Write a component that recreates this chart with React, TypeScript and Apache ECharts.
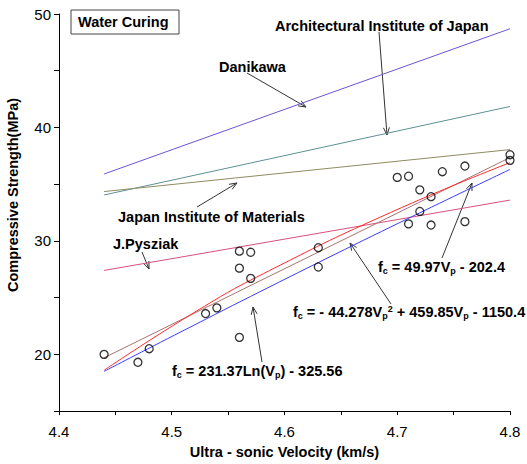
import React, { useEffect, useRef } from 'react';
import * as echarts from 'echarts';

// Measured data (Ultra-sonic velocity km/s vs compressive strength MPa)
const velocity = [4.44, 4.47, 4.48, 4.53, 4.54, 4.56, 4.56, 4.57, 4.56, 4.57, 4.63, 4.63, 4.70, 4.71, 4.72, 4.73, 4.72, 4.71, 4.73, 4.74, 4.76, 4.76, 4.80, 4.80];
const strength = [20.0, 19.3, 20.5, 23.6, 24.1, 21.5, 29.1, 29.0, 27.6, 26.7, 29.4, 27.7, 35.6, 35.7, 34.5, 33.9, 32.6, 31.5, 31.4, 36.1, 36.6, 31.7, 37.6, 37.1];

// Reference relations (end points)
const relX = [4.44, 4.8];
const danikawa = [35.9, 48.7];
const aij = [34.05, 41.85];
const jim = [34.35, 38.05];
const pysziak = [27.4, 33.6];
const linearFit = [19.7, 37.35];

// Quadratic fit (red)
const quadX = [4.44, 4.525, 4.587, 4.694, 4.8];
const quadY = [18.6, 24.0, 27.4, 32.5, 36.9];

// Logarithmic fit (blue)
const logX = [4.44, 4.62, 4.8];
const logY = [18.5, 27.6, 36.3];

const xTicks = [4.4, 4.5, 4.6, 4.7, 4.8];
const yTicks = [20, 30, 40, 50];

const FONT = "'Liberation Sans', Arial, Helvetica, sans-serif";

function pairs(xs: number[], ys: number[]) {
  return xs.map((x, i) => [x, ys[i]]);
}

function arrow(x1: number, y1: number, x2: number, y2: number) {
  const a = Math.atan2(y2 - y1, x2 - x1);
  const L = 8;
  const s = 0.38;
  const head = [
    [x2 - L * Math.cos(a - s), y2 - L * Math.sin(a - s)],
    [x2, y2],
    [x2 - L * Math.cos(a + s), y2 - L * Math.sin(a + s)],
  ];
  const st = { stroke: '#333', lineWidth: 1, fill: null };
  return [
    { type: 'line', shape: { x1, y1, x2, y2 }, style: st, silent: true },
    { type: 'polyline', shape: { points: head }, style: st, silent: true },
  ];
}

const richStyles = {
  n: { fontSize: 14.5, fontWeight: 'bold', fontFamily: FONT, lineHeight: 16, verticalAlign: 'top', color: '#000' },
  s: { fontSize: 9, fontWeight: 'bold', fontFamily: FONT, lineHeight: 10, verticalAlign: 'top', padding: [7, 0, 0, 0], color: '#000' },
  u: { fontSize: 9, fontWeight: 'bold', fontFamily: FONT, lineHeight: 10, verticalAlign: 'top', padding: [0, 0, 0, 0], color: '#000' },
};

function label(text: string, x: number, yc: number) {
  return {
    type: 'text',
    x,
    y: yc,
    silent: true,
    style: { text, fill: '#000', font: `bold 14.5px ${FONT}`, align: 'left', verticalAlign: 'middle' },
  };
}

function richLabel(text: string, x: number, yc: number) {
  return {
    type: 'text',
    x,
    y: yc - 8,
    silent: true,
    style: { text, rich: richStyles, fill: '#000', font: `bold 14.5px ${FONT}`, align: 'left', verticalAlign: 'top' },
  };
}

export default function App() {
  const ref = useRef<HTMLDivElement>(null);
  useEffect(() => {
    if (!ref.current) return;
    const chart = echarts.init(ref.current, undefined, { renderer: 'svg' });
    const lineSeries = (name: string, data: number[][], color: string, smooth = false) => ({
      name,
      type: 'line',
      data,
      showSymbol: false,
      smooth,
      lineStyle: { color, width: 1 },
      itemStyle: { color },
      z: 2,
    });
    const graphic: any[] = [
      { type: 'rect', shape: { x: 71, y: 10, width: 108, height: 24 }, style: { fill: '#fff', stroke: '#444', lineWidth: 1 }, silent: true },
      label('Water Curing', 78, 22),
      label('Architectural Institute of Japan', 275, 26),
      ...arrow(379, 32, 387, 135),
      label('Danikawa', 219, 67),
      ...arrow(247, 73, 306, 107),
      label('Japan Institute of Materials', 118, 217),
      ...arrow(197, 207, 237, 183),
      label('J.Pysziak', 113, 244),
      ...arrow(142, 252, 149, 269),
      richLabel('{n|f}{s|c}{n| = 49.97V}{s|p}{n| - 202.4}', 378, 267),
      ...arrow(442, 258, 472, 183),
      richLabel('{n|f}{s|c}{n| = - 44.278V}{s|p}{u|2}{n| + 459.85V}{s|p}{n| - 1150.4}', 293, 312),
      ...arrow(391, 304, 350, 243),
      richLabel('{n|f}{s|c}{n| = 231.37Ln(V}{s|p}{n|) - 325.56}', 172, 371),
      ...arrow(262, 362, 253, 307),
      {
        type: 'text',
        x: 13,
        y: 195,
        rotation: Math.PI / 2,
        silent: true,
        style: { text: 'Compressive Strength(MPa)', fill: '#000', font: `bold 14.5px ${FONT}`, align: 'center', verticalAlign: 'middle' },
      },
    ];
    chart.setOption({
      animation: false,
      backgroundColor: '#fff',
      grid: { left: 59, right: 17, top: 14, bottom: 44 },
      xAxis: {
        type: 'value',
        min: 4.4,
        max: 4.8,
        interval: 0.05,
        name: 'Ultra - sonic Velocity (km/s)',
        nameLocation: 'middle',
        nameGap: 26,
        nameTextStyle: { color: '#000', fontFamily: FONT, fontWeight: 'bold', fontSize: 14.5 },
        axisLine: { lineStyle: { color: '#000', width: 1 } },
        axisTick: { length: 4, lineStyle: { color: '#000' } },
        splitLine: { show: false },
        axisLabel: {
          color: '#000',
          fontFamily: FONT,
          fontSize: 15,
          margin: 13,
          formatter: (v: number) => {
            const hit = xTicks.find((t) => Math.abs(t - v) < 1e-6);
            return hit !== undefined ? hit.toFixed(1) : '';
          },
        },
      },
      yAxis: {
        type: 'value',
        min: 15,
        max: 50,
        interval: 5,
        axisLine: { show: true, lineStyle: { color: '#000', width: 1 } },
        axisTick: { show: true, length: 5, lineStyle: { color: '#000' } },
        splitLine: { show: false },
        axisLabel: {
          color: '#000',
          fontFamily: FONT,
          fontSize: 15,
          margin: 8,
          formatter: (v: number) => (yTicks.includes(Math.round(v)) && Math.abs(v - Math.round(v)) < 1e-6 ? String(Math.round(v)) : ''),
        },
      },
      series: [
        lineSeries('Danikawa', pairs(relX, danikawa), '#6f52d6'),
        lineSeries('Architectural Institute of Japan', pairs(relX, aij), '#5f9191'),
        lineSeries('Japan Institute of Materials', pairs(relX, jim), '#8e8c62'),
        lineSeries('J.Pysziak', pairs(relX, pysziak), '#d8507c'),
        lineSeries('Linear', pairs(relX, linearFit), '#a87474'),
        lineSeries('Quadratic', pairs(quadX, quadY), '#ff2a2a', true),
        lineSeries('Logarithmic', pairs(logX, logY), '#3c3cff', true),
        {
          name: 'Water Curing',
          type: 'scatter',
          data: pairs(velocity, strength),
          symbol: 'circle',
          symbolSize: 8,
          itemStyle: { color: 'rgba(0,0,0,0)', borderColor: '#000', borderWidth: 1.3 },
          z: 5,
        },
      ],
      graphic,
    });
    return () => chart.dispose();
  }, []);
  return <div ref={ref} style={{ position: 'absolute', left: 0, top: 0, width: 527, height: 464, background: '#fff' }} />;
}
